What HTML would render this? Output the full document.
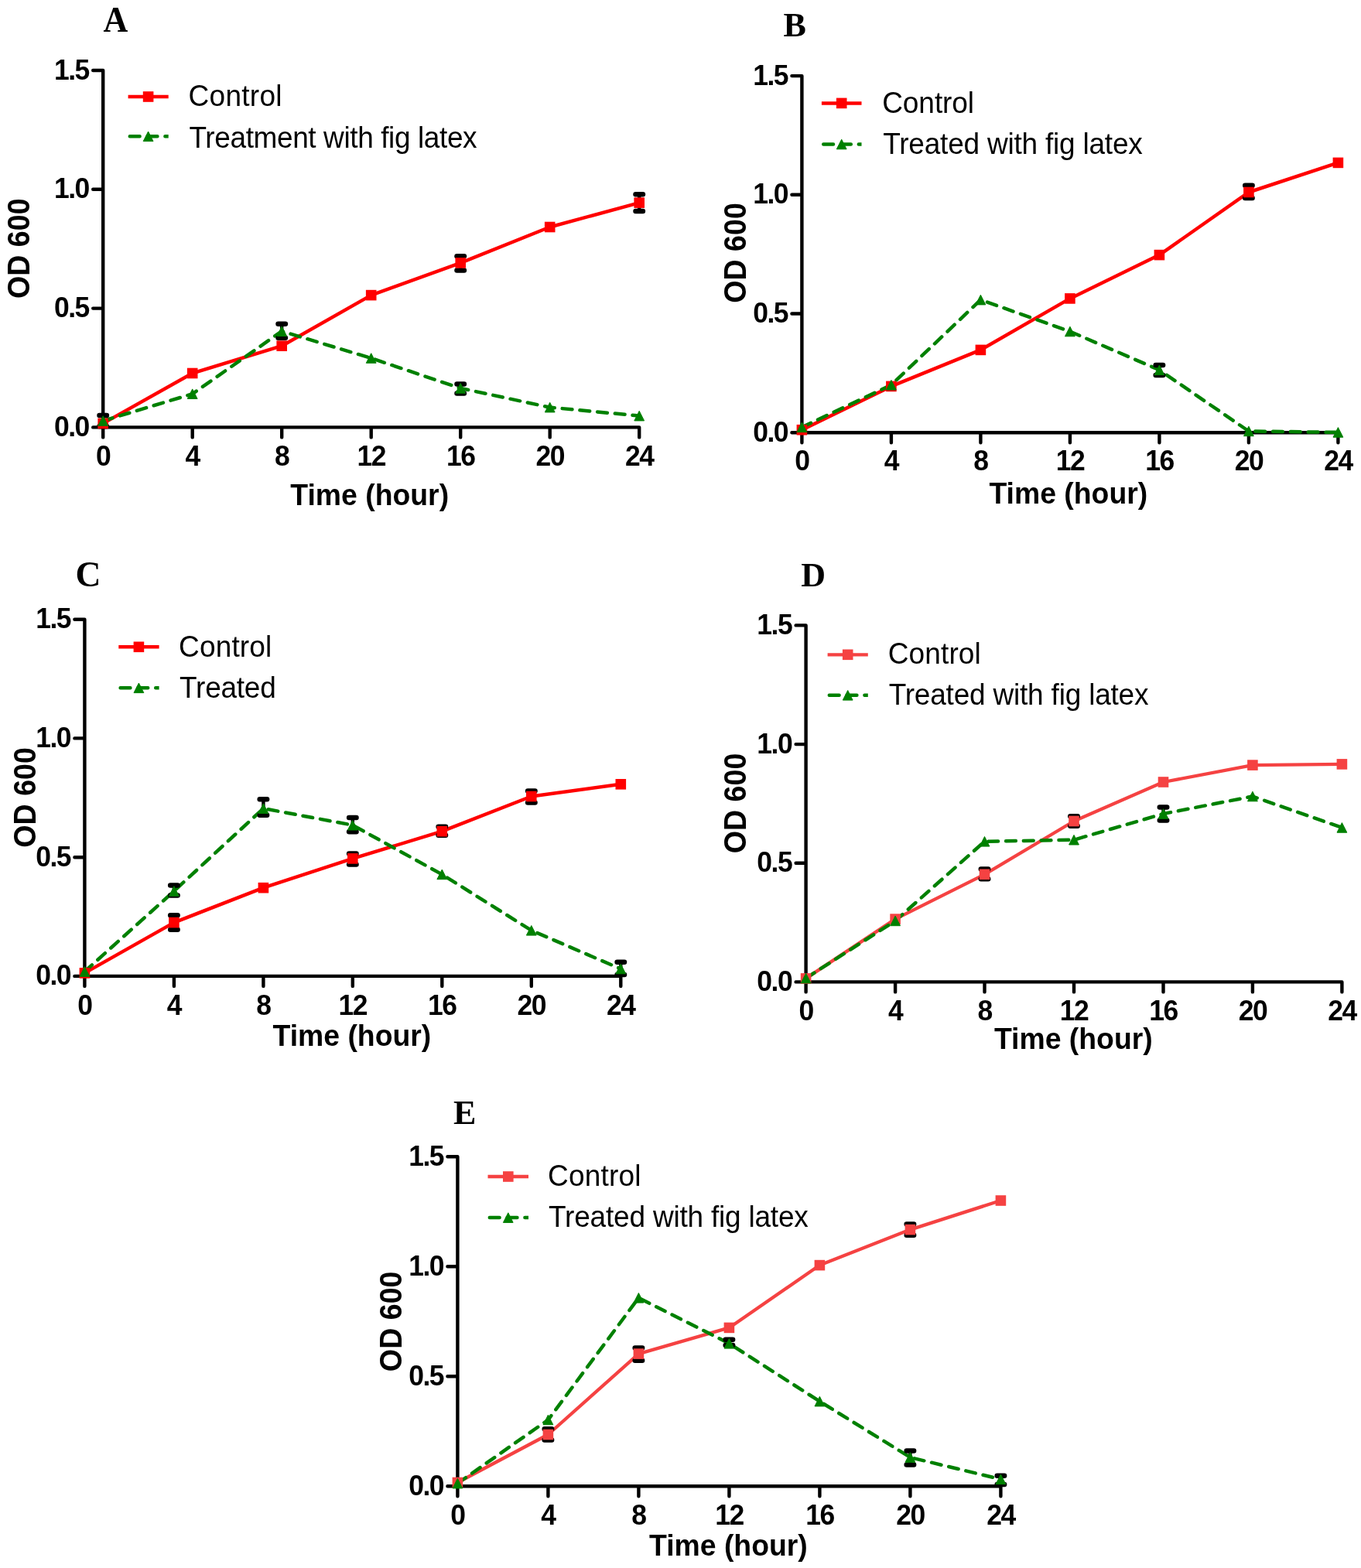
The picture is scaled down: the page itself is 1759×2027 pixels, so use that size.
<!DOCTYPE html>
<html><head><meta charset="utf-8"><title>Growth curves</title>
<style>
html,body{margin:0;padding:0;background:#fff;}
svg{display:block;}
.tk{font-family:"Liberation Sans",Arial,sans-serif;font-weight:bold;font-size:35.5px;letter-spacing:-1.5px;}
.ti{font-family:"Liberation Sans",Arial,sans-serif;font-weight:bold;font-size:37px;}
.yl{font-family:"Liberation Sans",Arial,sans-serif;font-weight:bold;font-size:38px;}
.lg{font-family:"Liberation Sans",Arial,sans-serif;font-size:37px;}
.lt{font-family:"Liberation Serif","Times New Roman",serif;font-weight:bold;font-size:44px;}
</style></head><body>
<svg width="1759" height="2027" viewBox="0 0 1759 2027">
<rect width="1759" height="2027" fill="#fff"/>
<g id="pA"><path d="M120.2 91.0H133.2V565.4M120.2 552.4H826.2V565.4M120.2 398.6H133.2M120.2 244.8H133.2M248.7 552.4V565.4M364.2 552.4V565.4M479.7 552.4V565.4M595.2 552.4V565.4M710.7 552.4V565.4" fill="none" stroke="#000" stroke-width="4.4" stroke-linejoin="round" stroke-linecap="round"/>
<text transform="translate(114.8 563.9) scale(1 1.035)" class="tk" text-anchor="end">0.0</text>
<text transform="translate(114.8 410.1) scale(1 1.035)" class="tk" text-anchor="end">0.5</text>
<text transform="translate(114.8 256.3) scale(1 1.035)" class="tk" text-anchor="end">1.0</text>
<text transform="translate(114.8 102.5) scale(1 1.035)" class="tk" text-anchor="end">1.5</text>
<text transform="translate(133.2 602.0) scale(1 1.035)" class="tk" text-anchor="middle">0</text>
<text transform="translate(248.7 602.0) scale(1 1.035)" class="tk" text-anchor="middle">4</text>
<text transform="translate(364.2 602.0) scale(1 1.035)" class="tk" text-anchor="middle">8</text>
<text transform="translate(479.7 602.0) scale(1 1.035)" class="tk" text-anchor="middle">12</text>
<text transform="translate(595.2 602.0) scale(1 1.035)" class="tk" text-anchor="middle">16</text>
<text transform="translate(710.7 602.0) scale(1 1.035)" class="tk" text-anchor="middle">20</text>
<text transform="translate(826.2 602.0) scale(1 1.035)" class="tk" text-anchor="middle">24</text>
<text transform="translate(477.7 652.9) scale(1.01 1.07)" class="ti" text-anchor="middle">Time (hour)</text>
<text transform="translate(37.5 321.2) rotate(-90) scale(0.99 1.06)" class="yl" text-anchor="middle">OD 600</text>
<text transform="translate(133.5 40.5) scale(1.0 1.05)" class="lt">A</text>
<polyline points="133.2,547.4 248.7,482.5 364.2,447.2 479.7,381.6 595.2,339.9 710.7,293.5 826.2,262.1" fill="none" stroke="#ff0000" stroke-width="4.5" stroke-linejoin="round"/>
<polyline points="133.2,544.0 248.7,509.2 364.2,428.2 479.7,463.0 595.2,501.9 710.7,526.6 826.2,537.6" fill="none" stroke="#008000" stroke-width="4.5" stroke-dasharray="12.8 10.0" stroke-linecap="round" stroke-linejoin="round"/>
<path d="M595.2 331.3V349.6" stroke="#000" stroke-width="4.4"/>
<path d="M590.5 331.3H599.9" stroke="#000" stroke-width="6.5" stroke-linecap="round"/>
<path d="M590.5 349.6H599.9" stroke="#000" stroke-width="6.5" stroke-linecap="round"/>
<path d="M826.2 251.3V272.9" stroke="#000" stroke-width="4.4"/>
<path d="M821.5 251.3H830.9" stroke="#000" stroke-width="6.5" stroke-linecap="round"/>
<path d="M821.5 272.9H830.9" stroke="#000" stroke-width="6.5" stroke-linecap="round"/>
<path d="M133.2 537.0V551.0" stroke="#000" stroke-width="4.4"/>
<path d="M128.5 537.0H137.9" stroke="#000" stroke-width="6.5" stroke-linecap="round"/>
<path d="M128.5 551.0H137.9" stroke="#000" stroke-width="6.5" stroke-linecap="round"/>
<path d="M364.2 418.8V436.7" stroke="#000" stroke-width="4.4"/>
<path d="M359.5 418.8H368.9" stroke="#000" stroke-width="6.5" stroke-linecap="round"/>
<path d="M359.5 436.7H368.9" stroke="#000" stroke-width="6.5" stroke-linecap="round"/>
<path d="M595.2 496.5V508.4" stroke="#000" stroke-width="4.4"/>
<path d="M590.5 496.5H599.9" stroke="#000" stroke-width="6.5" stroke-linecap="round"/>
<path d="M590.5 508.4H599.9" stroke="#000" stroke-width="6.5" stroke-linecap="round"/>
<rect x="126.4" y="540.6" width="13.6" height="13.6" fill="#ff0000"/>
<rect x="241.9" y="475.7" width="13.6" height="13.6" fill="#ff0000"/>
<rect x="357.4" y="440.4" width="13.6" height="13.6" fill="#ff0000"/>
<rect x="472.9" y="374.8" width="13.6" height="13.6" fill="#ff0000"/>
<rect x="588.4" y="333.1" width="13.6" height="13.6" fill="#ff0000"/>
<rect x="703.9" y="286.7" width="13.6" height="13.6" fill="#ff0000"/>
<rect x="819.4" y="255.3" width="13.6" height="13.6" fill="#ff0000"/>
<path d="M133.2 537.7L139.6 550.3L126.8 550.3Z" fill="#008000" stroke="#008000" stroke-width="1" stroke-linejoin="round"/>
<path d="M248.7 502.9L255.1 515.5L242.3 515.5Z" fill="#008000" stroke="#008000" stroke-width="1" stroke-linejoin="round"/>
<path d="M364.2 421.9L370.6 434.5L357.8 434.5Z" fill="#008000" stroke="#008000" stroke-width="1" stroke-linejoin="round"/>
<path d="M479.7 456.7L486.1 469.3L473.3 469.3Z" fill="#008000" stroke="#008000" stroke-width="1" stroke-linejoin="round"/>
<path d="M595.2 495.6L601.6 508.2L588.8 508.2Z" fill="#008000" stroke="#008000" stroke-width="1" stroke-linejoin="round"/>
<path d="M710.7 520.3L717.1 532.9L704.3 532.9Z" fill="#008000" stroke="#008000" stroke-width="1" stroke-linejoin="round"/>
<path d="M826.2 531.3L832.6 543.9L819.8 543.9Z" fill="#008000" stroke="#008000" stroke-width="1" stroke-linejoin="round"/>
<path d="M165.6 125.0H217.7" stroke="#ff0000" stroke-width="4.5"/>
<rect x="184.8" y="118.2" width="13.6" height="13.6" fill="#ff0000"/>
<clipPath id="lcA"><rect x="161.6" y="170.3" width="56.1" height="12"/></clipPath>
<path clip-path="url(#lcA)" d="M167.8 176.3H220.7" stroke="#008000" stroke-width="4.5" stroke-dasharray="12.8 10.0" stroke-linecap="round"/>
<path d="M191.6 170.0L198.0 182.6L185.2 182.6Z" fill="#008000" stroke="#008000" stroke-width="1" stroke-linejoin="round"/>
<text transform="translate(243.5 137.3) scale(1 1.04)" class="lg" textLength="121.1" lengthAdjust="spacing">Control</text>
<text transform="translate(244.5 190.5) scale(1 1.04)" class="lg" textLength="372.1" lengthAdjust="spacing">Treatment with fig latex</text></g>
<g id="pB"><path d="M1023.4 98.1H1036.4V572.2M1023.4 559.2H1729.4V572.2M1023.4 405.5H1036.4M1023.4 251.8H1036.4M1151.9 559.2V572.2M1267.4 559.2V572.2M1382.9 559.2V572.2M1498.4 559.2V572.2M1613.9 559.2V572.2" fill="none" stroke="#000" stroke-width="4.4" stroke-linejoin="round" stroke-linecap="round"/>
<text transform="translate(1018.0 570.7) scale(1 1.035)" class="tk" text-anchor="end">0.0</text>
<text transform="translate(1018.0 417.0) scale(1 1.035)" class="tk" text-anchor="end">0.5</text>
<text transform="translate(1018.0 263.3) scale(1 1.035)" class="tk" text-anchor="end">1.0</text>
<text transform="translate(1018.0 109.6) scale(1 1.035)" class="tk" text-anchor="end">1.5</text>
<text transform="translate(1036.4 608.0) scale(1 1.035)" class="tk" text-anchor="middle">0</text>
<text transform="translate(1151.9 608.0) scale(1 1.035)" class="tk" text-anchor="middle">4</text>
<text transform="translate(1267.4 608.0) scale(1 1.035)" class="tk" text-anchor="middle">8</text>
<text transform="translate(1382.9 608.0) scale(1 1.035)" class="tk" text-anchor="middle">12</text>
<text transform="translate(1498.4 608.0) scale(1 1.035)" class="tk" text-anchor="middle">16</text>
<text transform="translate(1613.9 608.0) scale(1 1.035)" class="tk" text-anchor="middle">20</text>
<text transform="translate(1729.4 608.0) scale(1 1.035)" class="tk" text-anchor="middle">24</text>
<text transform="translate(1380.8 650.6) scale(1.01 1.07)" class="ti" text-anchor="middle">Time (hour)</text>
<text transform="translate(963.5 327.0) rotate(-90) scale(0.99 1.06)" class="yl" text-anchor="middle">OD 600</text>
<text transform="translate(1012.6 47.1) scale(1 1)" class="lt">B</text>
<polyline points="1036.4,555.7 1151.9,499.4 1267.4,452.4 1382.9,385.9 1498.4,329.6 1613.9,248.5 1729.4,210.4" fill="none" stroke="#ff0000" stroke-width="4.5" stroke-linejoin="round"/>
<polyline points="1036.4,552.3 1151.9,497.7 1267.4,387.6 1382.9,428.5 1498.4,478.3 1613.9,557.4 1729.4,558.9" fill="none" stroke="#008000" stroke-width="4.5" stroke-dasharray="12.8 10.0" stroke-linecap="round" stroke-linejoin="round"/>
<path d="M1613.9 239.7V256.0" stroke="#000" stroke-width="4.4"/>
<path d="M1609.2 239.7H1618.6" stroke="#000" stroke-width="6.5" stroke-linecap="round"/>
<path d="M1609.2 256.0H1618.6" stroke="#000" stroke-width="6.5" stroke-linecap="round"/>
<path d="M1498.4 472.0V485.0" stroke="#000" stroke-width="4.4"/>
<path d="M1493.7 472.0H1503.1" stroke="#000" stroke-width="6.5" stroke-linecap="round"/>
<path d="M1493.7 485.0H1503.1" stroke="#000" stroke-width="6.5" stroke-linecap="round"/>
<rect x="1029.6" y="548.9" width="13.6" height="13.6" fill="#ff0000"/>
<rect x="1145.1" y="492.6" width="13.6" height="13.6" fill="#ff0000"/>
<rect x="1260.6" y="445.6" width="13.6" height="13.6" fill="#ff0000"/>
<rect x="1376.1" y="379.1" width="13.6" height="13.6" fill="#ff0000"/>
<rect x="1491.6" y="322.8" width="13.6" height="13.6" fill="#ff0000"/>
<rect x="1607.1" y="241.7" width="13.6" height="13.6" fill="#ff0000"/>
<rect x="1722.6" y="203.6" width="13.6" height="13.6" fill="#ff0000"/>
<path d="M1036.4 546.0L1042.8 558.6L1030.0 558.6Z" fill="#008000" stroke="#008000" stroke-width="1" stroke-linejoin="round"/>
<path d="M1151.9 491.4L1158.3 504.0L1145.5 504.0Z" fill="#008000" stroke="#008000" stroke-width="1" stroke-linejoin="round"/>
<path d="M1267.4 381.3L1273.8 393.9L1261.0 393.9Z" fill="#008000" stroke="#008000" stroke-width="1" stroke-linejoin="round"/>
<path d="M1382.9 422.2L1389.3 434.8L1376.5 434.8Z" fill="#008000" stroke="#008000" stroke-width="1" stroke-linejoin="round"/>
<path d="M1498.4 472.0L1504.8 484.6L1492.0 484.6Z" fill="#008000" stroke="#008000" stroke-width="1" stroke-linejoin="round"/>
<path d="M1613.9 551.1L1620.3 563.7L1607.5 563.7Z" fill="#008000" stroke="#008000" stroke-width="1" stroke-linejoin="round"/>
<path d="M1729.4 552.6L1735.8 565.2L1723.0 565.2Z" fill="#008000" stroke="#008000" stroke-width="1" stroke-linejoin="round"/>
<path d="M1061.9 133.4H1113.5" stroke="#ff0000" stroke-width="4.5"/>
<rect x="1080.9" y="126.6" width="13.6" height="13.6" fill="#ff0000"/>
<clipPath id="lcB"><rect x="1057.9" y="180.5" width="55.6" height="12"/></clipPath>
<path clip-path="url(#lcB)" d="M1064.2 186.5H1116.5" stroke="#008000" stroke-width="4.5" stroke-dasharray="12.8 10.0" stroke-linecap="round"/>
<path d="M1087.7 180.2L1094.1 192.8L1081.3 192.8Z" fill="#008000" stroke="#008000" stroke-width="1" stroke-linejoin="round"/>
<text transform="translate(1140.2 145.8) scale(1 1.04)" class="lg" textLength="118.9" lengthAdjust="spacing">Control</text>
<text transform="translate(1141.2 199.0) scale(1 1.04)" class="lg" textLength="335.6" lengthAdjust="spacing">Treated with fig latex</text></g>
<g id="pC"><path d="M96.4 800.7H109.4V1274.9M96.4 1261.9H802.3V1274.9M96.4 1108.2H109.4M96.4 954.4H109.4M224.9 1261.9V1274.9M340.4 1261.9V1274.9M455.8 1261.9V1274.9M571.3 1261.9V1274.9M686.8 1261.9V1274.9" fill="none" stroke="#000" stroke-width="4.4" stroke-linejoin="round" stroke-linecap="round"/>
<text transform="translate(91.0 1273.4) scale(1 1.035)" class="tk" text-anchor="end">0.0</text>
<text transform="translate(91.0 1119.7) scale(1 1.035)" class="tk" text-anchor="end">0.5</text>
<text transform="translate(91.0 965.9) scale(1 1.035)" class="tk" text-anchor="end">1.0</text>
<text transform="translate(91.0 812.2) scale(1 1.035)" class="tk" text-anchor="end">1.5</text>
<text transform="translate(109.4 1311.5) scale(1 1.035)" class="tk" text-anchor="middle">0</text>
<text transform="translate(224.9 1311.5) scale(1 1.035)" class="tk" text-anchor="middle">4</text>
<text transform="translate(340.4 1311.5) scale(1 1.035)" class="tk" text-anchor="middle">8</text>
<text transform="translate(455.8 1311.5) scale(1 1.035)" class="tk" text-anchor="middle">12</text>
<text transform="translate(571.3 1311.5) scale(1 1.035)" class="tk" text-anchor="middle">16</text>
<text transform="translate(686.8 1311.5) scale(1 1.035)" class="tk" text-anchor="middle">20</text>
<text transform="translate(802.3 1311.5) scale(1 1.035)" class="tk" text-anchor="middle">24</text>
<text transform="translate(454.9 1352.1) scale(1.01 1.07)" class="ti" text-anchor="middle">Time (hour)</text>
<text transform="translate(45.7 1030.9) rotate(-90) scale(0.99 1.06)" class="yl" text-anchor="middle">OD 600</text>
<text transform="translate(97.6 758.0) scale(1.04 1.07)" class="lt">C</text>
<polyline points="109.4,1257.9 224.9,1192.6 340.4,1147.7 455.8,1109.9 571.3,1074.7 686.8,1029.5 802.3,1013.8" fill="none" stroke="#ff0000" stroke-width="4.5" stroke-linejoin="round"/>
<polyline points="109.4,1256.0 224.9,1152.0 340.4,1045.1 455.8,1066.7 571.3,1130.4 686.8,1202.8 802.3,1252.5" fill="none" stroke="#008000" stroke-width="4.5" stroke-dasharray="12.8 10.0" stroke-linecap="round" stroke-linejoin="round"/>
<path d="M224.9 1183.3V1201.7" stroke="#000" stroke-width="4.4"/>
<path d="M220.2 1183.3H229.6" stroke="#000" stroke-width="6.5" stroke-linecap="round"/>
<path d="M220.2 1201.7H229.6" stroke="#000" stroke-width="6.5" stroke-linecap="round"/>
<path d="M455.8 1103.4V1117.5" stroke="#000" stroke-width="4.4"/>
<path d="M451.1 1103.4H460.5" stroke="#000" stroke-width="6.5" stroke-linecap="round"/>
<path d="M451.1 1117.5H460.5" stroke="#000" stroke-width="6.5" stroke-linecap="round"/>
<path d="M571.3 1068.8V1079.7" stroke="#000" stroke-width="4.4"/>
<path d="M566.6 1068.8H576.0" stroke="#000" stroke-width="6.5" stroke-linecap="round"/>
<path d="M566.6 1079.7H576.0" stroke="#000" stroke-width="6.5" stroke-linecap="round"/>
<path d="M686.8 1022.4V1037.5" stroke="#000" stroke-width="4.4"/>
<path d="M682.1 1022.4H691.5" stroke="#000" stroke-width="6.5" stroke-linecap="round"/>
<path d="M682.1 1037.5H691.5" stroke="#000" stroke-width="6.5" stroke-linecap="round"/>
<path d="M224.9 1144.5V1157.4" stroke="#000" stroke-width="4.4"/>
<path d="M220.2 1144.5H229.6" stroke="#000" stroke-width="6.5" stroke-linecap="round"/>
<path d="M220.2 1157.4H229.6" stroke="#000" stroke-width="6.5" stroke-linecap="round"/>
<path d="M340.4 1033.2V1053.7" stroke="#000" stroke-width="4.4"/>
<path d="M335.7 1033.2H345.1" stroke="#000" stroke-width="6.5" stroke-linecap="round"/>
<path d="M335.7 1053.7H345.1" stroke="#000" stroke-width="6.5" stroke-linecap="round"/>
<path d="M455.8 1057.0V1075.3" stroke="#000" stroke-width="4.4"/>
<path d="M451.1 1057.0H460.5" stroke="#000" stroke-width="6.5" stroke-linecap="round"/>
<path d="M451.1 1075.3H460.5" stroke="#000" stroke-width="6.5" stroke-linecap="round"/>
<path d="M802.3 1243.8V1260.0" stroke="#000" stroke-width="4.4"/>
<path d="M797.6 1243.8H807.0" stroke="#000" stroke-width="6.5" stroke-linecap="round"/>
<path d="M797.6 1260.0H807.0" stroke="#000" stroke-width="6.5" stroke-linecap="round"/>
<rect x="102.6" y="1251.1" width="13.6" height="13.6" fill="#ff0000"/>
<rect x="218.1" y="1185.8" width="13.6" height="13.6" fill="#ff0000"/>
<rect x="333.6" y="1140.9" width="13.6" height="13.6" fill="#ff0000"/>
<rect x="449.0" y="1103.1" width="13.6" height="13.6" fill="#ff0000"/>
<rect x="564.5" y="1067.9" width="13.6" height="13.6" fill="#ff0000"/>
<rect x="680.0" y="1022.7" width="13.6" height="13.6" fill="#ff0000"/>
<rect x="795.5" y="1007.0" width="13.6" height="13.6" fill="#ff0000"/>
<path d="M109.4 1249.7L115.8 1262.3L103.0 1262.3Z" fill="#008000" stroke="#008000" stroke-width="1" stroke-linejoin="round"/>
<path d="M224.9 1145.7L231.3 1158.3L218.5 1158.3Z" fill="#008000" stroke="#008000" stroke-width="1" stroke-linejoin="round"/>
<path d="M340.4 1038.8L346.8 1051.4L334.0 1051.4Z" fill="#008000" stroke="#008000" stroke-width="1" stroke-linejoin="round"/>
<path d="M455.8 1060.4L462.2 1073.0L449.4 1073.0Z" fill="#008000" stroke="#008000" stroke-width="1" stroke-linejoin="round"/>
<path d="M571.3 1124.1L577.7 1136.7L564.9 1136.7Z" fill="#008000" stroke="#008000" stroke-width="1" stroke-linejoin="round"/>
<path d="M686.8 1196.5L693.2 1209.1L680.4 1209.1Z" fill="#008000" stroke="#008000" stroke-width="1" stroke-linejoin="round"/>
<path d="M802.3 1246.2L808.7 1258.8L795.9 1258.8Z" fill="#008000" stroke="#008000" stroke-width="1" stroke-linejoin="round"/>
<path d="M153.3 836.3H205.6" stroke="#ff0000" stroke-width="4.5"/>
<rect x="172.6" y="829.5" width="13.6" height="13.6" fill="#ff0000"/>
<clipPath id="lcC"><rect x="149.3" y="883.3" width="56.3" height="12"/></clipPath>
<path clip-path="url(#lcC)" d="M155.6 889.3H208.6" stroke="#008000" stroke-width="4.5" stroke-dasharray="12.8 10.0" stroke-linecap="round"/>
<path d="M179.4 883.0L185.8 895.6L173.0 895.6Z" fill="#008000" stroke="#008000" stroke-width="1" stroke-linejoin="round"/>
<text transform="translate(231.1 849.3) scale(1 1.04)" class="lg" textLength="120.2" lengthAdjust="spacing">Control</text>
<text transform="translate(232.1 901.6) scale(1 1.04)" class="lg" textLength="124.7" lengthAdjust="spacing">Treated</text></g>
<g id="pD"><path d="M1028.6 808.4H1041.6V1282.4M1028.6 1269.4H1734.4V1282.4M1028.6 1115.7H1041.6M1028.6 962.1H1041.6M1157.1 1269.4V1282.4M1272.5 1269.4V1282.4M1388.0 1269.4V1282.4M1503.5 1269.4V1282.4M1618.9 1269.4V1282.4" fill="none" stroke="#000" stroke-width="4.4" stroke-linejoin="round" stroke-linecap="round"/>
<text transform="translate(1023.2 1280.9) scale(1 1.035)" class="tk" text-anchor="end">0.0</text>
<text transform="translate(1023.2 1127.2) scale(1 1.035)" class="tk" text-anchor="end">0.5</text>
<text transform="translate(1023.2 973.6) scale(1 1.035)" class="tk" text-anchor="end">1.0</text>
<text transform="translate(1023.2 819.9) scale(1 1.035)" class="tk" text-anchor="end">1.5</text>
<text transform="translate(1041.6 1318.8) scale(1 1.035)" class="tk" text-anchor="middle">0</text>
<text transform="translate(1157.1 1318.8) scale(1 1.035)" class="tk" text-anchor="middle">4</text>
<text transform="translate(1272.5 1318.8) scale(1 1.035)" class="tk" text-anchor="middle">8</text>
<text transform="translate(1388.0 1318.8) scale(1 1.035)" class="tk" text-anchor="middle">12</text>
<text transform="translate(1503.5 1318.8) scale(1 1.035)" class="tk" text-anchor="middle">16</text>
<text transform="translate(1618.9 1318.8) scale(1 1.035)" class="tk" text-anchor="middle">20</text>
<text transform="translate(1734.4 1318.8) scale(1 1.035)" class="tk" text-anchor="middle">24</text>
<text transform="translate(1387.3 1356.4) scale(1.01 1.07)" class="ti" text-anchor="middle">Time (hour)</text>
<text transform="translate(964.4 1038.5) rotate(-90) scale(0.99 1.06)" class="yl" text-anchor="middle">OD 600</text>
<text transform="translate(1035.2 757.6) scale(1 1)" class="lt">D</text>
<polyline points="1041.6,1264.9 1157.1,1188.1 1272.5,1130.3 1388.0,1061.5 1503.5,1011.0 1618.9,989.1 1734.4,987.9" fill="none" stroke="#f54242" stroke-width="4.3" stroke-linejoin="round"/>
<polyline points="1041.6,1264.5 1157.1,1190.4 1272.5,1087.8 1388.0,1085.7 1503.5,1052.0 1618.9,1029.5 1734.4,1069.9" fill="none" stroke="#008000" stroke-width="4.5" stroke-dasharray="12.8 10.0" stroke-linecap="round" stroke-linejoin="round"/>
<path d="M1272.5 1123.5V1136.2" stroke="#000" stroke-width="4.4"/>
<path d="M1267.8 1123.5H1277.2" stroke="#000" stroke-width="6.5" stroke-linecap="round"/>
<path d="M1267.8 1136.2H1277.2" stroke="#000" stroke-width="6.5" stroke-linecap="round"/>
<path d="M1388.0 1055.2V1067.8" stroke="#000" stroke-width="4.4"/>
<path d="M1383.3 1055.2H1392.7" stroke="#000" stroke-width="6.5" stroke-linecap="round"/>
<path d="M1383.3 1067.8H1392.7" stroke="#000" stroke-width="6.5" stroke-linecap="round"/>
<path d="M1503.5 1043.6V1060.4" stroke="#000" stroke-width="4.4"/>
<path d="M1498.8 1043.6H1508.2" stroke="#000" stroke-width="6.5" stroke-linecap="round"/>
<path d="M1498.8 1060.4H1508.2" stroke="#000" stroke-width="6.5" stroke-linecap="round"/>
<rect x="1034.8" y="1258.1" width="13.6" height="13.6" fill="#f54242"/>
<rect x="1150.3" y="1181.3" width="13.6" height="13.6" fill="#f54242"/>
<rect x="1265.7" y="1123.5" width="13.6" height="13.6" fill="#f54242"/>
<rect x="1381.2" y="1054.7" width="13.6" height="13.6" fill="#f54242"/>
<rect x="1496.7" y="1004.2" width="13.6" height="13.6" fill="#f54242"/>
<rect x="1612.1" y="982.3" width="13.6" height="13.6" fill="#f54242"/>
<rect x="1727.6" y="981.1" width="13.6" height="13.6" fill="#f54242"/>
<path d="M1041.6 1258.2L1048.0 1270.8L1035.2 1270.8Z" fill="#008000" stroke="#008000" stroke-width="1" stroke-linejoin="round"/>
<path d="M1157.1 1184.1L1163.5 1196.7L1150.7 1196.7Z" fill="#008000" stroke="#008000" stroke-width="1" stroke-linejoin="round"/>
<path d="M1272.5 1081.5L1278.9 1094.1L1266.1 1094.1Z" fill="#008000" stroke="#008000" stroke-width="1" stroke-linejoin="round"/>
<path d="M1388.0 1079.4L1394.4 1092.0L1381.6 1092.0Z" fill="#008000" stroke="#008000" stroke-width="1" stroke-linejoin="round"/>
<path d="M1503.5 1045.7L1509.9 1058.3L1497.1 1058.3Z" fill="#008000" stroke="#008000" stroke-width="1" stroke-linejoin="round"/>
<path d="M1618.9 1023.2L1625.3 1035.8L1612.5 1035.8Z" fill="#008000" stroke="#008000" stroke-width="1" stroke-linejoin="round"/>
<path d="M1734.4 1063.6L1740.8 1076.2L1728.0 1076.2Z" fill="#008000" stroke="#008000" stroke-width="1" stroke-linejoin="round"/>
<path d="M1069.6 846.3H1121.8" stroke="#f54242" stroke-width="4.3"/>
<rect x="1088.9" y="839.5" width="13.6" height="13.6" fill="#f54242"/>
<clipPath id="lcD"><rect x="1065.6" y="892.8" width="56.2" height="12"/></clipPath>
<path clip-path="url(#lcD)" d="M1071.8 898.8H1124.8" stroke="#008000" stroke-width="4.5" stroke-dasharray="12.8 10.0" stroke-linecap="round"/>
<path d="M1095.7 892.5L1102.1 905.1L1089.3 905.1Z" fill="#008000" stroke="#008000" stroke-width="1" stroke-linejoin="round"/>
<text transform="translate(1147.7 858.3) scale(1 1.04)" class="lg" textLength="120.1" lengthAdjust="spacing">Control</text>
<text transform="translate(1148.7 911.0) scale(1 1.04)" class="lg" textLength="335.8" lengthAdjust="spacing">Treated with fig latex</text></g>
<g id="pE"><path d="M578.4 1495.3H591.4V1934.3M578.4 1921.3H1293.4V1934.3M578.4 1779.3H591.4M578.4 1637.3H591.4M708.4 1921.3V1934.3M825.4 1921.3V1934.3M942.4 1921.3V1934.3M1059.4 1921.3V1934.3M1176.4 1921.3V1934.3" fill="none" stroke="#000" stroke-width="4.4" stroke-linejoin="round" stroke-linecap="round"/>
<text transform="translate(573.0 1932.8) scale(1 1.035)" class="tk" text-anchor="end">0.0</text>
<text transform="translate(573.0 1790.8) scale(1 1.035)" class="tk" text-anchor="end">0.5</text>
<text transform="translate(573.0 1648.8) scale(1 1.035)" class="tk" text-anchor="end">1.0</text>
<text transform="translate(573.0 1506.8) scale(1 1.035)" class="tk" text-anchor="end">1.5</text>
<text transform="translate(591.4 1970.5) scale(1 1.035)" class="tk" text-anchor="middle">0</text>
<text transform="translate(708.4 1970.5) scale(1 1.035)" class="tk" text-anchor="middle">4</text>
<text transform="translate(825.4 1970.5) scale(1 1.035)" class="tk" text-anchor="middle">8</text>
<text transform="translate(942.4 1970.5) scale(1 1.035)" class="tk" text-anchor="middle">12</text>
<text transform="translate(1059.4 1970.5) scale(1 1.035)" class="tk" text-anchor="middle">16</text>
<text transform="translate(1176.4 1970.5) scale(1 1.035)" class="tk" text-anchor="middle">20</text>
<text transform="translate(1293.4 1970.5) scale(1 1.035)" class="tk" text-anchor="middle">24</text>
<text transform="translate(941.4 2011.2) scale(1.01 1.07)" class="ti" text-anchor="middle">Time (hour)</text>
<text transform="translate(518.7 1708.3) rotate(-90) scale(0.99 1.06)" class="yl" text-anchor="middle">OD 600</text>
<text transform="translate(586.0 1452.5) scale(1 1)" class="lt">E</text>
<polyline points="591.4,1916.5 708.4,1854.5 825.4,1750.1 942.4,1716.4 1059.4,1635.6 1176.4,1589.6 1293.4,1552.0" fill="none" stroke="#f54242" stroke-width="4.3" stroke-linejoin="round"/>
<polyline points="591.4,1917.6 708.4,1835.5 825.4,1677.8 942.4,1736.8 1059.4,1811.6 1176.4,1884.0 1293.4,1912.3" fill="none" stroke="#008000" stroke-width="4.5" stroke-dasharray="12.8 10.0" stroke-linecap="round" stroke-linejoin="round"/>
<path d="M708.4 1847.3V1861.4" stroke="#000" stroke-width="4.4"/>
<path d="M703.7 1847.3H713.1" stroke="#000" stroke-width="6.5" stroke-linecap="round"/>
<path d="M703.7 1861.4H713.1" stroke="#000" stroke-width="6.5" stroke-linecap="round"/>
<path d="M825.4 1742.6V1758.8" stroke="#000" stroke-width="4.4"/>
<path d="M820.7 1742.6H830.1" stroke="#000" stroke-width="6.5" stroke-linecap="round"/>
<path d="M820.7 1758.8H830.1" stroke="#000" stroke-width="6.5" stroke-linecap="round"/>
<path d="M1176.4 1582.6V1596.7" stroke="#000" stroke-width="4.4"/>
<path d="M1171.7 1582.6H1181.1" stroke="#000" stroke-width="6.5" stroke-linecap="round"/>
<path d="M1171.7 1596.7H1181.1" stroke="#000" stroke-width="6.5" stroke-linecap="round"/>
<path d="M942.4 1731.8V1739.0" stroke="#000" stroke-width="4.4"/>
<path d="M937.7 1731.8H947.1" stroke="#000" stroke-width="6.5" stroke-linecap="round"/>
<path d="M937.7 1739.0H947.1" stroke="#000" stroke-width="6.5" stroke-linecap="round"/>
<path d="M1176.4 1875.5V1893.4" stroke="#000" stroke-width="4.4"/>
<path d="M1171.7 1875.5H1181.1" stroke="#000" stroke-width="6.5" stroke-linecap="round"/>
<path d="M1171.7 1893.4H1181.1" stroke="#000" stroke-width="6.5" stroke-linecap="round"/>
<path d="M1293.4 1907.8V1919.0" stroke="#000" stroke-width="4.4"/>
<path d="M1288.7 1907.8H1298.1" stroke="#000" stroke-width="6.5" stroke-linecap="round"/>
<path d="M1288.7 1919.0H1298.1" stroke="#000" stroke-width="6.5" stroke-linecap="round"/>
<rect x="584.6" y="1909.7" width="13.6" height="13.6" fill="#f54242"/>
<rect x="701.6" y="1847.7" width="13.6" height="13.6" fill="#f54242"/>
<rect x="818.6" y="1743.3" width="13.6" height="13.6" fill="#f54242"/>
<rect x="935.6" y="1709.6" width="13.6" height="13.6" fill="#f54242"/>
<rect x="1052.6" y="1628.8" width="13.6" height="13.6" fill="#f54242"/>
<rect x="1169.6" y="1582.8" width="13.6" height="13.6" fill="#f54242"/>
<rect x="1286.6" y="1545.2" width="13.6" height="13.6" fill="#f54242"/>
<path d="M591.4 1911.3L597.8 1923.9L585.0 1923.9Z" fill="#008000" stroke="#008000" stroke-width="1" stroke-linejoin="round"/>
<path d="M708.4 1829.2L714.8 1841.8L702.0 1841.8Z" fill="#008000" stroke="#008000" stroke-width="1" stroke-linejoin="round"/>
<path d="M825.4 1671.5L831.8 1684.1L819.0 1684.1Z" fill="#008000" stroke="#008000" stroke-width="1" stroke-linejoin="round"/>
<path d="M942.4 1730.5L948.8 1743.1L936.0 1743.1Z" fill="#008000" stroke="#008000" stroke-width="1" stroke-linejoin="round"/>
<path d="M1059.4 1805.3L1065.8 1817.9L1053.0 1817.9Z" fill="#008000" stroke="#008000" stroke-width="1" stroke-linejoin="round"/>
<path d="M1176.4 1877.7L1182.8 1890.3L1170.0 1890.3Z" fill="#008000" stroke="#008000" stroke-width="1" stroke-linejoin="round"/>
<path d="M1293.4 1906.0L1299.8 1918.6L1287.0 1918.6Z" fill="#008000" stroke="#008000" stroke-width="1" stroke-linejoin="round"/>
<path d="M630.5 1521.0H683.0" stroke="#f54242" stroke-width="4.3"/>
<rect x="650.0" y="1514.2" width="13.6" height="13.6" fill="#f54242"/>
<clipPath id="lcE"><rect x="626.5" y="1568.1" width="56.5" height="12"/></clipPath>
<path clip-path="url(#lcE)" d="M632.8 1574.1H686.0" stroke="#008000" stroke-width="4.5" stroke-dasharray="12.8 10.0" stroke-linecap="round"/>
<path d="M656.8 1567.8L663.1 1580.4L650.4 1580.4Z" fill="#008000" stroke="#008000" stroke-width="1" stroke-linejoin="round"/>
<text transform="translate(708.1 1533.1) scale(1 1.04)" class="lg" textLength="120.5" lengthAdjust="spacing">Control</text>
<text transform="translate(709.1 1586.2) scale(1 1.04)" class="lg" textLength="335.7" lengthAdjust="spacing">Treated with fig latex</text></g>
</svg></body></html>
